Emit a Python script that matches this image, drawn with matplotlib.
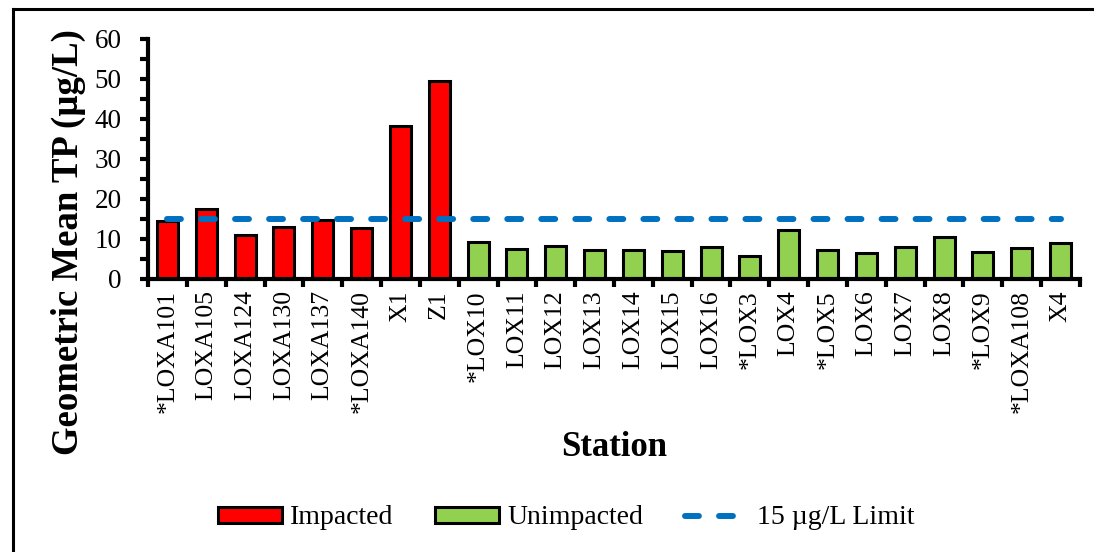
import numpy as np
import matplotlib
matplotlib.use('Agg')
import matplotlib.pyplot as plt
from matplotlib.lines import Line2D
from matplotlib.patches import Patch

plt.rcParams['font.family'] = ['Liberation Serif', 'DejaVu Serif']
plt.rcParams['lines.scale_dashes'] = False

# 데이터
impacted = ['*LOXA101', 'LOXA105', 'LOXA124', 'LOXA130', 'LOXA137', '*LOXA140', 'X1', 'Z1']
impacted_tp = [14.4, 17.5, 10.9, 12.9, 14.8, 12.8, 38.2, 49.4]
unimpacted = ['*LOX10', 'LOX11', 'LOX12', 'LOX13', 'LOX14', 'LOX15', 'LOX16', '*LOX3',
              'LOX4', '*LOX5', 'LOX6', 'LOX7', 'LOX8', '*LOX9', '*LOXA108', 'X4']
unimpacted_tp = [9.3, 7.5, 8.2, 7.2, 7.2, 7.0, 8.1, 5.8,
                 12.3, 7.2, 6.4, 8.1, 10.4, 6.8, 7.7, 9.1]
limit = 15

stations = impacted + unimpacted
x_imp = np.arange(len(impacted))
x_unimp = np.arange(len(impacted), len(stations))

W, H = 1094, 552
fig = plt.figure(figsize=(W / 100, H / 100), dpi=100)
ax = fig.add_axes([148 / W, 1 - 279 / H, (1080 - 148) / W, (279 - 39) / H])

ax.bar(x_imp, impacted_tp, width=0.54, color='#FF0000', edgecolor='black', linewidth=2.2,
       label='Impacted', zorder=2)
ax.bar(x_unimp, unimpacted_tp, width=0.54, color='#92D050', edgecolor='black', linewidth=2.2,
       label='Unimpacted', zorder=2)
ax.plot([0, len(stations) - 1], [limit, limit], color='#0070C0', linewidth=4.3,
        dashes=(10, 14.5), dash_capstyle='round', zorder=3, label='15 µg/L Limit')

ax.set_xlim(-0.5, len(stations) - 0.5)
ax.set_ylim(0, 60)
ax.set_xticks(np.arange(len(stations)))
ax.set_xticklabels(stations, rotation=90, fontsize=18.5)
ax.set_xticks(np.arange(len(stations) + 1) - 0.5, minor=True)
ax.tick_params(axis='x', which='major', length=0, pad=8)
ax.tick_params(axis='x', which='minor', length=6, width=3, direction='out')
ax.set_yticks(np.arange(0, 61, 10))
ax.set_yticks(np.arange(0, 61, 5), minor=True)
ax.tick_params(axis='y', which='both', length=6, width=3, direction='out', labelsize=19.5, pad=13)

for s in ['top', 'right']:
    ax.spines[s].set_visible(False)
for s in ['left', 'bottom']:
    ax.spines[s].set_linewidth(3)

fig.text(68 / W, 1 - 242 / H, 'Geometric Mean TP (µg/L)', rotation=90, fontsize=26.5,
         fontweight='bold', ha='center', va='center')
fig.text(614 / W, 1 - 456 / H, 'Station', fontsize=25, fontweight='bold',
         ha='center', va='baseline')

handles = [Patch(facecolor='#FF0000', edgecolor='black', linewidth=2.2),
           Patch(facecolor='#92D050', edgecolor='black', linewidth=2.2),
           Line2D([], [], color='#0070C0', linewidth=4.3, dashes=(10, 14.5),
                  dash_capstyle='round')]
fig.legend(handles, ['Impacted', 'Unimpacted', '15 µg/L Limit'], loc='center',
           bbox_to_anchor=(566 / W, 1 - 518 / H), ncol=3, frameon=False, fontsize=20,
           handlelength=2.3, handleheight=0.5, handletextpad=0.3, columnspacing=1.5)

# 바깥 테두리 (위, 왼쪽)
fig.add_artist(Line2D([13 / W, 13 / W], [0, 1 - 8.5 / H], color='black', linewidth=2.2,
                      transform=fig.transFigure))
fig.add_artist(Line2D([13 / W, 1], [1 - 8.5 / H, 1 - 8.5 / H], color='black', linewidth=2.2,
                      transform=fig.transFigure))

fig.savefig('out.png', dpi=100)
